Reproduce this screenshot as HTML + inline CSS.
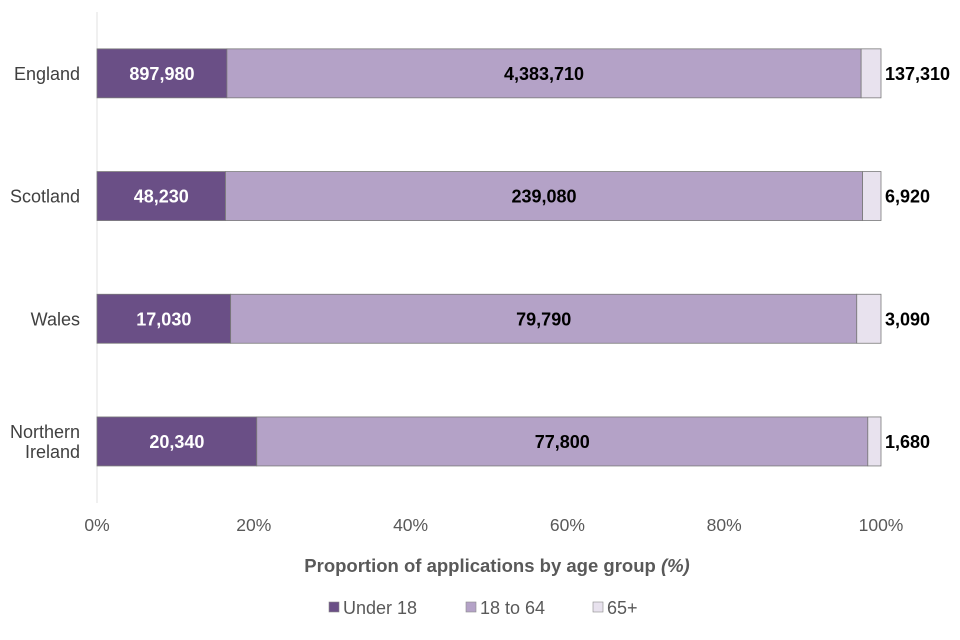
<!DOCTYPE html>
<html><head><meta charset="utf-8"><style>
body{margin:0;background:#fff;}
svg{display:block;font-family:"Liberation Sans",Arial,sans-serif;}
</style></head><body>
<svg id="chart" width="960" height="640"></svg>
<script>
const categories = [["England"],["Scotland"],["Wales"],["Northern","Ireland"]];
const under18 = [897980, 48230, 17030, 20340];
const adults = [4383710, 239080, 79790, 77800];
const seniors = [137310, 6920, 3090, 1680];
const ticks = [0, 20, 40, 60, 80, 100];
const seriesNames = ["Under 18", "18 to 64", "65+"];
const colors = ["#6a4f86", "#b4a2c7", "#e8e2ee"];

const NS = "http://www.w3.org/2000/svg";
const svg = document.getElementById("chart");
const x0 = 97, x1 = 881, top0 = 12, bandH = 122.7, barH = 49;
const xs = p => x0 + (x1 - x0) * p / 100;
const yc = i => top0 + bandH * i + bandH / 2;
function el(tag, attrs, parent) {
  const e = document.createElementNS(NS, tag);
  for (const k in attrs) e.setAttribute(k, attrs[k]);
  (parent || svg).appendChild(e);
  return e;
}
const fmt = v => v.toLocaleString("en-GB");

const axis = el("line", {x1: x0, x2: x0, y1: 12, y2: 503, stroke: "#e0e0e0"});



ticks.forEach(t => {
  const tx = el("text", {x: xs(t), y: 531, "text-anchor": "middle", "font-size": 17.5, fill: "#595959"});
  tx.textContent = t + "%";
  
  
});

categories.forEach((cat, i) => {
  const total = under18[i] + adults[i] + seniors[i];
  const vals = [under18[i], adults[i], seniors[i]];
  let acc = 0;
  const cy = yc(i);
  vals.forEach((v, s) => {
    const a = xs(acc / total * 100), b = xs((acc + v) / total * 100);
    acc += v;
    const r = el("rect", {x: a, y: cy - barH / 2, width: b - a, height: barH, fill: colors[s], stroke: "#7a7a7a", "stroke-width": 0.8});
    
    
    const t = el("text", {"font-size": 18, "font-weight": "bold", y: cy + 6.5});
    if (s === 2) { t.setAttribute("x", x1 + 4); t.setAttribute("fill", "#000"); }
    else { t.setAttribute("x", (a + b) / 2); t.setAttribute("text-anchor", "middle"); t.setAttribute("fill", s === 0 ? "#fff" : "#000"); }
    t.textContent = fmt(v);
    
    
  });
  const lab = el("text", {x: 80, "text-anchor": "end", "font-size": 18, fill: "#404040"});
  cat.forEach((line, j) => {
    const ts = el("tspan", {x: 80, y: cy + 6.5 + (j - (cat.length - 1) / 2) * 20}, lab);
    ts.textContent = line;
  });
  
  
});

const title = el("text", {x: 497, y: 572, "text-anchor": "middle", "font-size": 18.5, "font-weight": "bold", fill: "#595959"});
title.innerHTML = 'Proportion of applications by age group <tspan font-style="italic" font-weight="bold">(%)</tspan>';



const legX = [329, 466, 593];
seriesNames.forEach((n, s) => {
  const g = el("g", {});
  
  
  el("rect", {x: legX[s], y: 602, width: 10, height: 10, fill: colors[s], stroke: "#8a8a8a", "stroke-width": 0.6}, g);
  const t = el("text", {x: legX[s] + 14, y: 614, "font-size": 18, fill: "#595959"}, g);
  t.textContent = n;
});
</script>
</body></html>
